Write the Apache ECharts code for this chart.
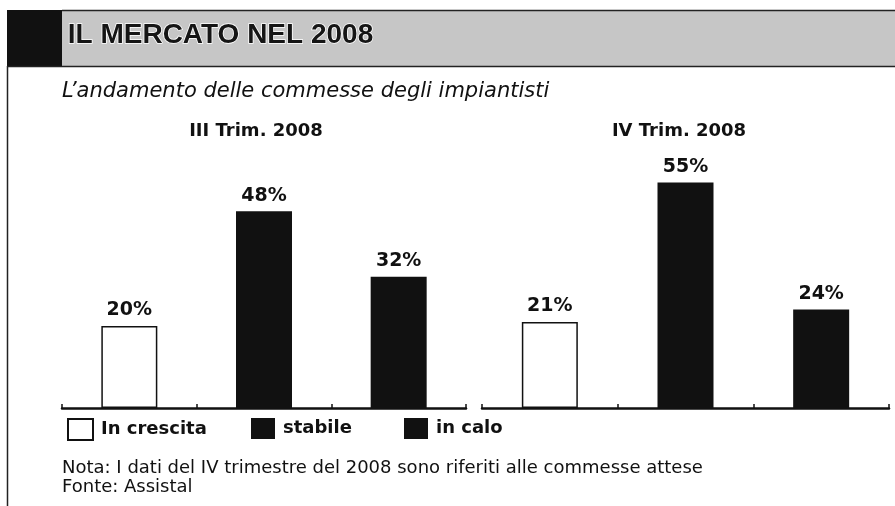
<!DOCTYPE html>
<html>
<head>
<meta charset="utf-8">
<script src="https://cdn.jsdelivr.net/npm/echarts@6/dist/echarts.min.js"></script>
<style>
html,body{margin:0;padding:0;background:#fff;}
#c{width:895px;height:506px;}
</style>
</head>
<body>
<div id="c"></div>
<script>
var titleText = 'IL MERCATO NEL 2008';
var subtitleText = 'L\u2019andamento delle commesse degli impiantisti';
var panelTitles = ['III Trim. 2008', 'IV Trim. 2008'];
var categories = ['In crescita', 'stabile', 'in calo'];
var q3Values = [20, 48, 32];
var q4Values = [21, 55, 24];
var noteLines = ['Nota: I dati del IV trimestre del 2008 sono riferiti alle commesse attese', 'Fonte: Assistal'];

var colors = ['#ffffff', '#111111', '#111111'];
var panels = [q3Values, q4Values];

var chart = echarts.init(document.getElementById('c'), null, {renderer: 'canvas'});

var grids = [
  {left: 62, width: 404, bottom: 98, height: 246},
  {left: 482, width: 407, bottom: 98, height: 246}
];

var xAxes = [], yAxes = [], series = [];
panels.forEach(function (vals, p) {
  xAxes.push({
    type: 'category', gridIndex: p, data: categories,
    boundaryGap: true,
    axisLine: {lineStyle: {color: '#111', width: 2.5}},
    axisTick: {show: true, inside: true, length: 4, lineStyle: {color: '#111', width: 1.5}},
    axisLabel: {show: false}
  });
  yAxes.push({
    type: 'value', gridIndex: p, min: 0, max: 60, show: false,
    splitLine: {show: false}
  });
  categories.forEach(function (cat, i) {
    var data = categories.map(function (c, j) { return j === i ? vals[i] : '-'; });
    series.push({
      name: cat, type: 'bar', xAxisIndex: p, yAxisIndex: p,
      stack: 'p' + p, barWidth: 56, data: data,
      itemStyle: {color: colors[i], borderColor: '#111', borderWidth: i === 0 ? 1.5 : 0},
      label: {
        show: true, position: 'top', distance: 6,
        formatter: '{c}%', color: '#111',
        fontFamily: 'DejaVu Sans', fontWeight: 'bold', fontSize: 19
      },
      emphasis: {disabled: true},
      animation: false
    });
  });
});

var legendLefts = [67, 251, 404];
var legends = categories.map(function (cat, i) {
  return {
    left: legendLefts[i], top: 418, padding: 0,
    itemWidth: i === 0 ? 25 : 24, itemHeight: 21,
    icon: 'rect', data: [cat], selectedMode: false,
    textStyle: {color: '#111', fontFamily: 'DejaVu Sans', fontWeight: 'bold', fontSize: 18, padding: [0, 0, 0, 3]}
  };
});

var graphics = [
  {type: 'rect', shape: {x: 62, y: 10, width: 833, height: 56}, style: {fill: '#c6c6c6'}, z: 0},
  {type: 'rect', shape: {x: 7, y: 10, width: 55, height: 57}, style: {fill: '#111'}, z: 1},
  {type: 'line', shape: {x1: 62, y1: 10.5, x2: 895, y2: 10.5}, style: {stroke: '#222', lineWidth: 1.5}, z: 1},
  {type: 'line', shape: {x1: 7, y1: 66.5, x2: 895, y2: 66.5}, style: {stroke: '#222', lineWidth: 1.5}, z: 1},
  {type: 'line', shape: {x1: 7.5, y1: 66, x2: 7.5, y2: 506}, style: {stroke: '#222', lineWidth: 1.5}, z: 1},
  {type: 'text', left: 67, top: 21, z: 2,
    style: {text: titleText, fill: '#151515', stroke: '#fff', lineWidth: 1.5,
      font: 'bold 28px "Liberation Sans", Arial, sans-serif'}},
  {type: 'text', left: 62, top: 81, z: 2,
    style: {text: subtitleText, fill: '#111', font: 'oblique 21px "DejaVu Sans", sans-serif'}},
  {type: 'text', x: 256, y: 131, z: 2,
    style: {text: panelTitles[0], fill: '#111', textAlign: 'center', textVerticalAlign: 'middle',
      font: 'bold 18px "DejaVu Sans", sans-serif'}},
  {type: 'text', x: 679, y: 131, z: 2,
    style: {text: panelTitles[1], fill: '#111', textAlign: 'center', textVerticalAlign: 'middle',
      font: 'bold 18px "DejaVu Sans", sans-serif'}},
  {type: 'text', left: 62, top: 459, z: 2,
    style: {text: noteLines.join('\n'), fill: '#111', lineHeight: 19,
      font: '18px "DejaVu Sans", sans-serif'}}
];

chart.setOption({
  animation: false,
  grid: grids,
  xAxis: xAxes,
  yAxis: yAxes,
  legend: legends,
  series: series,
  graphic: graphics
});
</script>
</body>
</html>
